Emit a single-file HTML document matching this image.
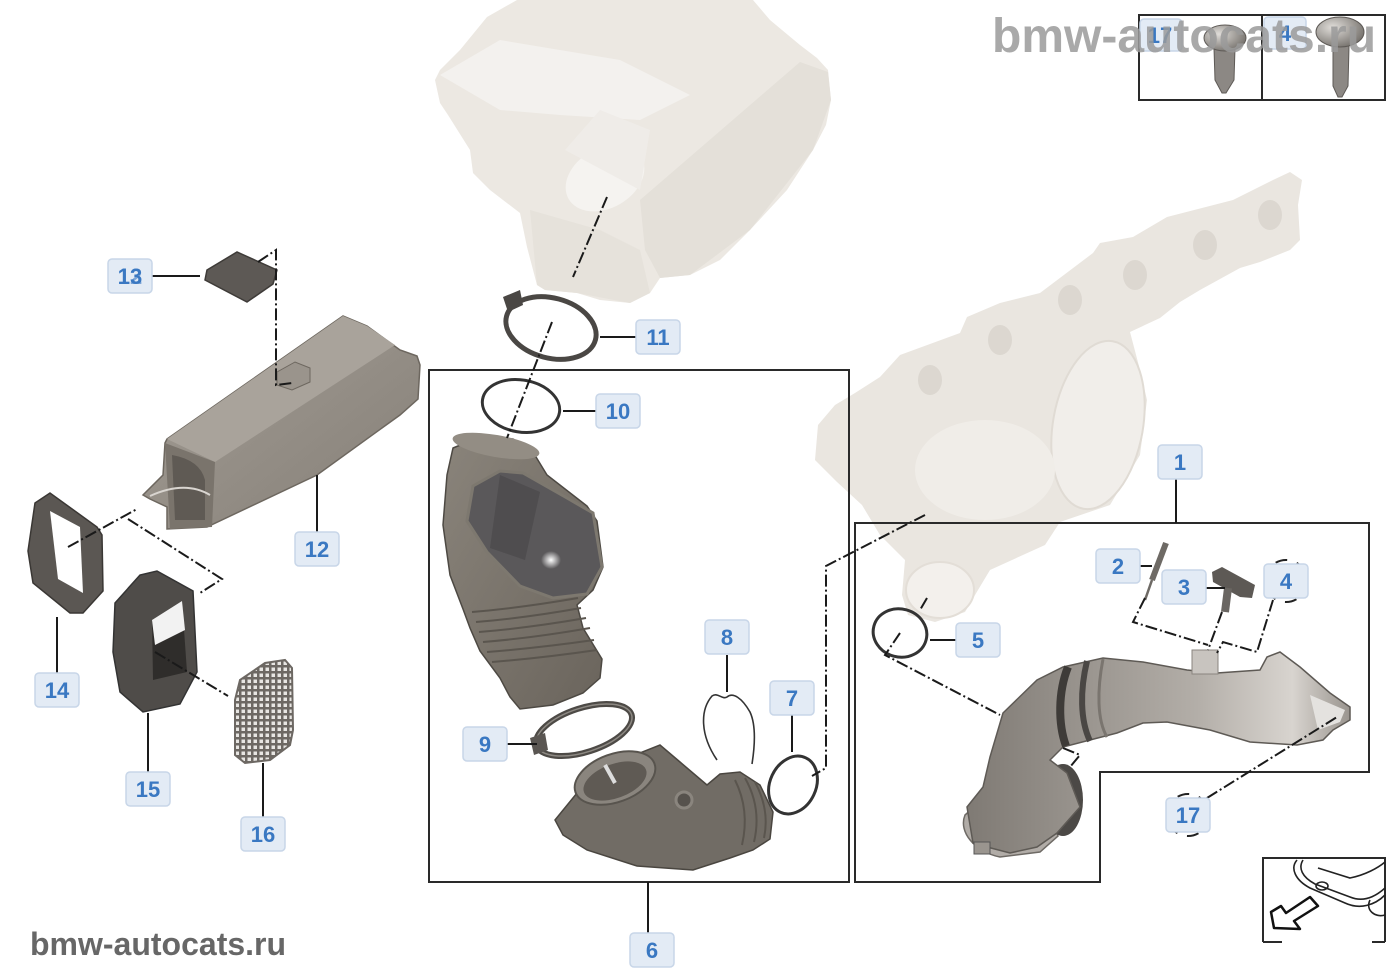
<!DOCTYPE html>
<html><head><meta charset="utf-8"><style>
html,body{margin:0;padding:0;background:#fff;}
svg{display:block;}
.lb rect{fill:#e3ebf5;stroke:#c8d6e8;stroke-width:1.5;}
.lb text{font-family:"Liberation Sans",Arial,sans-serif;font-weight:bold;font-size:22px;fill:#3a78c2;text-anchor:middle;}
.ld{stroke:#1a1a1a;stroke-width:2;fill:none;}
.dd{stroke:#1a1a1a;stroke-width:2;fill:none;stroke-dasharray:12 3 2 3;}
.fr{stroke:#2a2a2a;stroke-width:2;fill:none;}
</style></head><body>
<svg width="1400" height="980" viewBox="0 0 1400 980" xmlns="http://www.w3.org/2000/svg">
<defs>
<linearGradient id="gp" x1="0" y1="0" x2="1" y2="1"><stop offset="0" stop-color="#8a847b"/><stop offset="1" stop-color="#6a645c"/></linearGradient>
<linearGradient id="gx" x1="0" y1="0" x2="1" y2="0"><stop offset="0" stop-color="#7f7a74"/><stop offset="0.6" stop-color="#b3aea8"/><stop offset="0.85" stop-color="#d8d4cf"/><stop offset="1" stop-color="#9a958f"/></linearGradient>
<linearGradient id="gd" x1="0" y1="0" x2="1" y2="1"><stop offset="0" stop-color="#a49e96"/><stop offset="1" stop-color="#857f77"/></linearGradient>
<radialGradient id="gs" cx="0.35" cy="0.35" r="0.7"><stop offset="0" stop-color="#e0ddd9"/><stop offset="1" stop-color="#77736e"/></radialGradient>
<radialGradient id="hl" cx="0.5" cy="0.5" r="0.5"><stop offset="0" stop-color="#ffffff"/><stop offset="1" stop-color="#ffffff" stop-opacity="0"/></radialGradient>
<pattern id="mesh" width="6" height="6" patternUnits="userSpaceOnUse"><rect width="6" height="6" fill="#6d6863"/><rect x="1.5" y="1.5" width="3.5" height="3.5" fill="#e8e6e3"/></pattern>
</defs>

<!-- Airbox (top) -->
<path d="M517,0 L753,0 L770,20 L800,45 L817,58 L828,70 L831,100 L826,125 L813,150 L787,190 L750,230 L720,260 L690,275 L660,278 L650,293 L630,303 L600,300 L577,293 L545,290 L537,285 L527,247 L520,213 L490,190 L473,173 L470,150 L448,115 L440,103 L435,80 L440,70 L460,50 L487,17 Z" fill="#ece8e2"/>
<path d="M640,200 L800,62 L828,72 L831,100 L813,150 L750,230 L690,275 L660,278 L645,250 Z" fill="#e4e0d9"/>
<path d="M440,75 L500,40 L620,60 L690,95 L640,120 L560,115 L500,110 Z" fill="#f3f1ee"/>
<path d="M530,210 L600,230 L640,250 L650,293 L630,303 L577,293 L545,290 L537,285 Z" fill="#e6e2db"/>
<ellipse cx="605" cy="178" rx="42" ry="30" transform="rotate(-30 605 178)" fill="#f5f3f0"/>
<path d="M565,150 L600,110 L650,130 L640,190 Z" fill="#efece8"/>

<!-- Turbo / manifold (light) -->
<path d="M1290,172 L1302,180 L1298,205 L1300,240 L1290,250 L1260,262 L1240,268 L1200,290 L1180,302 L1160,318 L1130,332 L1140,370 L1147,400 L1140,455 L1110,505 L1060,522 L1045,545 L990,570 L978,590 L965,612 L935,622 L908,615 L902,595 L905,560 L880,535 L862,505 L837,482 L815,460 L818,425 L835,405 L855,393 L880,377 L900,355 L960,333 L967,317 L1000,303 L1040,293 L1093,253 L1100,243 L1133,237 L1167,217 L1233,200 L1273,180 Z" fill="#eae6e0"/>
<ellipse cx="1098" cy="425" rx="45" ry="85" transform="rotate(10 1098 425)" fill="#f1eeea" stroke="#e0dbd4" stroke-width="2"/>
<ellipse cx="985" cy="470" rx="70" ry="50" fill="#f0ede8"/>
<ellipse cx="940" cy="590" rx="34" ry="28" fill="#f3f0ec" stroke="#e3ded7" stroke-width="2"/>
<ellipse cx="930" cy="380" rx="12" ry="15" fill="#dcd7d0"/>
<ellipse cx="1000" cy="340" rx="12" ry="15" fill="#dcd7d0"/>
<ellipse cx="1070" cy="300" rx="12" ry="15" fill="#dcd7d0"/>
<ellipse cx="1135" cy="275" rx="12" ry="15" fill="#dcd7d0"/>
<ellipse cx="1205" cy="245" rx="12" ry="15" fill="#dcd7d0"/>
<ellipse cx="1270" cy="215" rx="12" ry="15" fill="#dcd7d0"/>

<!-- Box 6 frame -->
<rect x="429" y="370" width="420" height="512" class="fr"/>
<!-- Box 1 frame -->
<path d="M855,523 L1369,523 L1369,772 L1100,772 L1100,882 L855,882 Z" class="fr"/>

<!-- Intake pipe upper (in box 6) -->
<path d="M453,448 L480,437 L513,439 L533,452 L547,475 L587,506 L597,521 L603,567 L593,590 L577,605 L583,628 L602,659 L600,678 L583,693 L553,705 L520,709 L510,697 L500,678 L480,651 L470,628 L463,609 L450,575 L443,525 L447,475 Z" fill="url(#gp)" stroke="#4d4943" stroke-width="1.5"/>
<ellipse cx="496" cy="446" rx="44" ry="11" transform="rotate(10 496 446)" fill="#938d84"/>
<path d="M473,486 L500,471 L523,473 L567,498 L593,513 L602,567 L587,594 L553,598 L520,586 L487,552 L467,521 Z" fill="#5a585a" stroke="#7d786f" stroke-width="3"/>
<path d="M500,475 L540,492 L525,560 L490,548 Z" fill="#4f4d4f"/>
<ellipse cx="551" cy="560" rx="10" ry="9" fill="url(#hl)"/>
<g stroke="#5a554e" stroke-width="2" fill="none">
<path d="M472,612 Q520,608 578,598"/><path d="M476,622 Q525,618 581,608"/><path d="M479,632 Q528,628 586,618"/><path d="M483,642 Q533,638 590,628"/><path d="M487,652 Q538,648 594,640"/><path d="M492,662 Q542,658 597,650"/>
</g>
<!-- Clamp 9 -->
<ellipse cx="584" cy="730" rx="50" ry="22" transform="rotate(-18 584 730)" fill="none" stroke="#4d4a46" stroke-width="6"/>
<ellipse cx="584" cy="730" rx="50" ry="22" transform="rotate(-18 584 730)" fill="none" stroke="#8c8882" stroke-width="1.5"/>
<path d="M530,738 L545,733 L548,750 L534,755 Z" fill="#5a5652"/>
<!-- Lower elbow -->
<path d="M555,820 L577,793 L607,766 L660,745 L680,762 L707,785 L720,774 L740,772 L760,785 L773,812 L770,839 L753,850 L730,858 L693,870 L637,866 L587,850 L563,835 Z" fill="#716c65" stroke="#4a4640" stroke-width="1.5"/>
<ellipse cx="615" cy="778" rx="42" ry="24" transform="rotate(-20 615 778)" fill="#8a857e" stroke="#58544e" stroke-width="2"/>
<ellipse cx="615" cy="781" rx="33" ry="17" transform="rotate(-20 615 781)" fill="#5f5a54"/>
<path d="M605,765 L615,783" stroke="#ddd" stroke-width="4"/>
<circle cx="684" cy="800" r="8" fill="#56524d" stroke="#8a857e" stroke-width="3"/>
<g stroke="#5a554e" stroke-width="2" fill="none"><path d="M735,780 Q750,810 742,845"/><path d="M745,778 Q762,808 754,842"/><path d="M755,782 Q770,810 764,838"/></g>
<!-- Clip 8 -->
<path d="M717,760 C700,735 700,710 712,696 C718,692 722,700 727,697 C733,692 742,698 750,712 C756,725 755,745 752,764" fill="none" stroke="#333" stroke-width="1.6"/>
<!-- Ring 7 -->
<ellipse cx="793" cy="785" rx="23" ry="30" transform="rotate(25 793 785)" fill="none" stroke="#333" stroke-width="3"/>
<!-- Ring 10 -->
<ellipse cx="521" cy="406" rx="39" ry="26" transform="rotate(10 521 406)" fill="none" stroke="#333" stroke-width="3"/>
<!-- Clamp 11 -->
<ellipse cx="551" cy="328" rx="46" ry="30" transform="rotate(15 551 328)" fill="none" stroke="#4a4744" stroke-width="5"/>
<path d="M503,297 L520,290 L523,305 L508,312 Z" fill="#4a4744"/>

<!-- Cover 13 -->
<path d="M207,270 L237,252 L277,270 L273,284 L247,302 L205,280 Z" fill="#5d5955" stroke="#3e3b38" stroke-width="1.5"/>
<!-- Duct 12 -->
<path d="M150,499 L143,495 L163,475 L165,443 L167,439 L343,316 L367,326 L400,350 L417,356 L420,365 L418,399 L400,415 L317,475 L207,527 L167,529 L167,507 Z" fill="url(#gd)" stroke="#6d675f" stroke-width="1.5"/>
<path d="M167,439 L343,316 L367,326 L395,345 L215,462 Z" fill="#a9a39b"/>
<path d="M165,443 L215,462 L212,527 L170,529 Z" fill="#7a746c"/>
<path d="M172,455 Q200,460 205,480 L205,520 L175,520 Z" fill="#5f5a54"/>
<path d="M150,496 Q185,480 210,495" fill="none" stroke="#d9d5d0" stroke-width="2"/>
<path d="M277,372 L295,362 L310,368 L310,382 L292,390 L277,385 Z" fill="#9a948c" stroke="#6d675f"/>
<!-- Frame 14 -->
<path d="M35,503 L50,493 L97,527 L102,535 L103,591 L83,613 L70,613 L33,583 L28,551 Z" fill="#5b5753" stroke="#3a3734" stroke-width="1.5"/>
<path d="M50,511 L80,527 L83,593 L58,579 Z" fill="#ffffff"/>
<!-- Part 15 -->
<path d="M115,603 L140,575 L157,571 L193,591 L197,672 L180,704 L143,712 L120,692 L113,652 Z" fill="#4f4c49" stroke="#333" stroke-width="1.5"/>
<path d="M152,620 L182,601 L187,672 L153,680 Z" fill="#2f2d2b"/>
<path d="M152,620 L182,601 L185,630 L155,645 Z" fill="#f2f2f2"/>
<!-- Mesh 16 -->
<path d="M235,700 L240,680 L265,663 L285,660 L292,668 L293,730 L290,745 L270,760 L245,763 L235,755 Z" fill="url(#mesh)" stroke="#6d6863" stroke-width="2"/>

<!-- Box1 pipe -->
<path d="M965,815 C958,832 975,852 1000,857 L1040,852 L1058,836 L1048,812 L1030,798 L990,793 Z" fill="#b1aca7" stroke="#6e6a65" stroke-width="1.5"/>
<ellipse cx="1063" cy="800" rx="20" ry="36" fill="#4c4946"/>
<path d="M973,843 L967,807 L983,787 L990,757 L1003,713 L1037,680 L1063,667 L1103,658 L1143,662 L1187,670 L1217,673 L1260,670 L1267,657 L1280,652 L1300,667 L1330,693 L1350,707 L1350,720 L1333,730 L1323,740 L1297,745 L1250,742 L1210,730 L1167,722 L1143,723 L1117,733 L1090,740 L1063,747 L1050,760 L1067,773 L1080,807 L1057,833 L1037,847 L1010,853 L987,847 Z" fill="url(#gx)" stroke="#5e5a55" stroke-width="1.5"/>
<path d="M1068,667 C1058,692 1058,724 1066,746" stroke="#3e3b38" stroke-width="8" fill="none"/>
<path d="M1087,661 C1080,690 1080,720 1090,741" stroke="#4a4744" stroke-width="6" fill="none"/>
<path d="M1103,659 C1097,690 1097,720 1107,737" stroke="#7a756f" stroke-width="3" fill="none"/>
<path d="M1310,695 L1345,710 L1340,722 L1318,730 Z" fill="#e4e2df"/>
<rect x="974" y="842" width="16" height="12" fill="#9a958f" stroke="#555"/>
<rect x="1192" y="650" width="26" height="24" fill="#c8c4bf" stroke="#8a857f"/>
<!-- Sensor 2 -->
<path d="M1166,543 L1152,580" stroke="#6e6a65" stroke-width="6"/>
<path d="M1152,580 L1145,600" stroke="#6e6a65" stroke-width="2.5"/>
<!-- Sensor 3 -->
<path d="M1212,572 L1222,567 L1255,585 L1252,598 L1240,597 L1213,582 Z" fill="#5d5955"/>
<path d="M1228,588 L1225,612" stroke="#6a6662" stroke-width="8"/>
<!-- Ring 5 -->
<ellipse cx="900" cy="633" rx="27" ry="24" transform="rotate(15 900 633)" fill="none" stroke="#333" stroke-width="3"/>
<!-- dashed circles around 4 and 17 -->
<circle cx="1286" cy="581" r="21" fill="none" stroke="#222" stroke-width="2" stroke-dasharray="12 10"/>
<circle cx="1188" cy="815" r="21" fill="none" stroke="#222" stroke-width="2" stroke-dasharray="12 10"/>

<!-- Dash-dot lines -->
<path class="dd" d="M607,197 L573,277"/>
<path class="dd" d="M552,322 L507,438"/>
<path class="dd" d="M258,262 L276,250 L276,385 L292,383"/>
<path class="dd" d="M68,547 L137,509"/>
<path class="dd" d="M128,519 L222,579 L200,593"/>
<path class="dd" d="M155,652 L228,696"/>
<path class="dd" d="M925,515 L826,566 L826,768 L812,776"/>
<path class="dd" d="M927,598 L920,610"/>
<path class="dd" d="M900,633 L885,655 L1000,715"/>
<path class="dd" d="M1145,598 L1133,622 L1208,645"/>
<path class="dd" d="M1222,612 L1208,650"/>
<path class="dd" d="M1273,600 L1257,652 L1223,642 L1217,653"/>
<path class="dd" d="M1207,798 L1337,717"/>
<path class="dd" d="M1063,748 L1080,755 L1070,767"/>

<!-- Solid leaders -->
<g class="ld">
<path d="M600,337 L636,337"/><path d="M563,411 L596,411"/><path d="M507,744 L537,744"/>
<path d="M727,655 L727,692"/><path d="M792,715 L792,752"/><path d="M648,882 L648,933"/>
<path d="M317,475 L317,532"/><path d="M152,276 L200,276"/><path d="M57,617 L57,673"/>
<path d="M148,713 L148,772"/><path d="M263,763 L263,817"/><path d="M1176,479 L1176,523"/>
<path d="M1139,566 L1152,566"/><path d="M1206,588 L1225,588"/><path d="M930,640 L956,640"/>
</g>

<!-- Labels -->
<g class="lb">
<rect x="1158" y="445" width="44" height="34" rx="4"/><text x="1180" y="470">1</text>
<rect x="1096" y="549" width="44" height="34" rx="4"/><text x="1118" y="574">2</text>
<rect x="1162" y="570" width="44" height="34" rx="4"/><text x="1184" y="595">3</text>
<rect x="1264" y="564" width="44" height="34" rx="4"/><text x="1286" y="589">4</text>
<rect x="956" y="623" width="44" height="34" rx="4"/><text x="978" y="648">5</text>
<rect x="630" y="933" width="44" height="34" rx="4"/><text x="652" y="958">6</text>
<rect x="770" y="681" width="44" height="34" rx="4"/><text x="792" y="706">7</text>
<rect x="705" y="620" width="44" height="34" rx="4"/><text x="727" y="645">8</text>
<rect x="463" y="727" width="44" height="34" rx="4"/><text x="485" y="752">9</text>
<rect x="596" y="394" width="44" height="34" rx="4"/><text x="618" y="419">10</text>
<rect x="636" y="320" width="44" height="34" rx="4"/><text x="658" y="345">11</text>
<rect x="295" y="532" width="44" height="34" rx="4"/><text x="317" y="557">12</text>
<rect x="108" y="259" width="44" height="34" rx="4"/><text x="130" y="284">13</text><text x="130" y="284" style="opacity:0.6">12</text>
<rect x="35" y="673" width="44" height="34" rx="4"/><text x="57" y="698">14</text>
<rect x="126" y="772" width="44" height="34" rx="4"/><text x="148" y="797">15</text>
<rect x="241" y="817" width="44" height="34" rx="4"/><text x="263" y="842">16</text>
<rect x="1166" y="798" width="44" height="34" rx="4"/><text x="1188" y="823">17</text>
</g>

<!-- Top-right screw box -->
<rect x="1139" y="15" width="246" height="85" class="fr"/>
<path d="M1262,15 L1262,100" class="fr"/>
<g class="lb">
<rect x="1140" y="19" width="42" height="32" rx="4"/><text x="1160" y="43">17</text>
<rect x="1264" y="17" width="42" height="32" rx="4"/><text x="1285" y="41">4</text>
</g>
<path d="M1214,48 L1235,48 L1234,80 L1226,93 L1222,93 L1215,80 Z" fill="#8c8884" stroke="#5e5a56"/>
<ellipse cx="1225" cy="38" rx="21" ry="13" fill="url(#gs)" stroke="#5e5a56"/>
<path d="M1333,46 L1349,46 L1348,86 L1342,97 L1338,97 L1333,86 Z" fill="#8c8884" stroke="#5e5a56"/>
<ellipse cx="1340" cy="32" rx="24" ry="15" fill="url(#gs)" stroke="#5e5a56"/>
<text x="992" y="52" font-family="Liberation Sans, Arial, sans-serif" font-weight="bold" font-size="48" fill="#9a9a9a" fill-opacity="0.85">bmw-autocats.ru</text>

<!-- Car icon box -->
<path d="M1263,942 L1263,858 L1385,858 L1385,942" class="fr" stroke-width="1.5"/>
<path d="M1263,942 L1282,942 M1372,942 L1385,942" class="fr" stroke-width="1.5"/>
<g fill="none" stroke="#222" stroke-width="1.6">
<path d="M1297,860 C1290,868 1295,880 1310,888 L1345,903 C1360,910 1375,905 1385,895"/>
<path d="M1303,860 C1298,868 1302,877 1315,884 L1350,897 C1362,902 1374,898 1385,888"/>
<path d="M1318,868 L1350,878 C1365,875 1378,868 1385,862"/>
<ellipse cx="1322" cy="886" rx="6" ry="4"/>
<path d="M1370,900 C1365,910 1375,918 1385,915"/>
</g>
<path d="M1271,912 L1274,928 L1300,929 L1294,921 L1318,906 L1310,897 L1286,913 L1281,906 Z" fill="#fff" stroke="#111" stroke-width="2.5" stroke-linejoin="round"/>

<!-- Bottom-left watermark -->
<text x="30" y="955" font-family="Liberation Sans, Arial, sans-serif" font-weight="bold" font-size="32" fill="#676767">bmw-autocats.ru</text>
</svg>
</body></html>
